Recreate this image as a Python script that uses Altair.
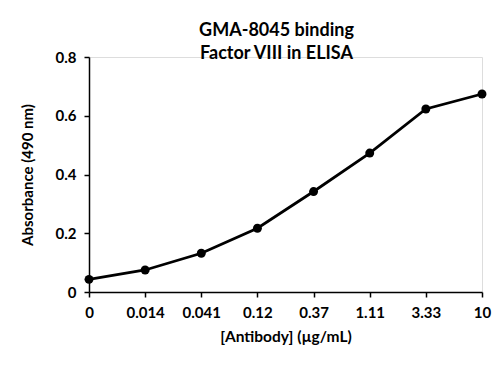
import altair as alt
import pandas as pd

concentrations = ["0", "0.014", "0.041", "0.12", "0.37", "1.11", "3.33", "10"]
absorbance = [0.043, 0.075, 0.132, 0.217, 0.342, 0.473, 0.623, 0.674]
y_ticks = [0, 0.2, 0.4, 0.6, 0.8]

df = pd.DataFrame({"conc": concentrations, "abs": absorbance})

FONT = "Lato"

base = alt.Chart(df).encode(
    x=alt.X(
        "conc:O",
        sort=concentrations,
        scale=alt.Scale(type="point", padding=0),
        axis=alt.Axis(
            title="[Antibody] (µg/mL)",
            labelAngle=0,
            labelFont=FONT, labelFontWeight="bold", labelFontSize=15, labelColor="#000",
            titleFont=FONT, titleFontWeight="bold", titleFontSize=15.5, titleColor="#000",
            domainColor="#000", domainWidth=1.5, tickColor="#000", tickWidth=1.5, tickSize=5,
            labelPadding=8, titlePadding=9, grid=False,
        ),
    ),
    y=alt.Y(
        "abs:Q",
        scale=alt.Scale(domain=[0, 0.8], nice=False, zero=True),
        axis=alt.Axis(
            title="Absorbance (490 nm)",
            values=y_ticks, format=".1~f",
            labelFont=FONT, labelFontWeight="bold", labelFontSize=15, labelColor="#000",
            titleFont=FONT, titleFontWeight="bold", titleFontSize=15, titleColor="#000",
            domainColor="#000", domainWidth=1.5, tickColor="#000", tickWidth=1.5, tickSize=5,
            labelPadding=8, titlePadding=20, grid=False,
        ),
    ),
)

line = base.mark_line(color="#000", strokeWidth=2.8)
pts = base.mark_circle(color="#000", size=80, opacity=1)

chart = (line + pts).properties(
    width=393,
    height=235,
    title=alt.TitleParams(
        text=["GMA-8045 binding", "Factor VIII in ELISA"],
        font=FONT, fontWeight="bold", fontSize=18, color="#000",
        anchor="middle", lineHeight=23, offset=-13, dx=-9,
    ),
    autosize=alt.AutoSizeParams(type="none"),
    padding={"left": 81, "top": 49, "right": 12, "bottom": 70},
).configure_view(stroke=None).configure(background="white")

chart.save("out.html", embed_options={"renderer": "svg", "actions": False})
